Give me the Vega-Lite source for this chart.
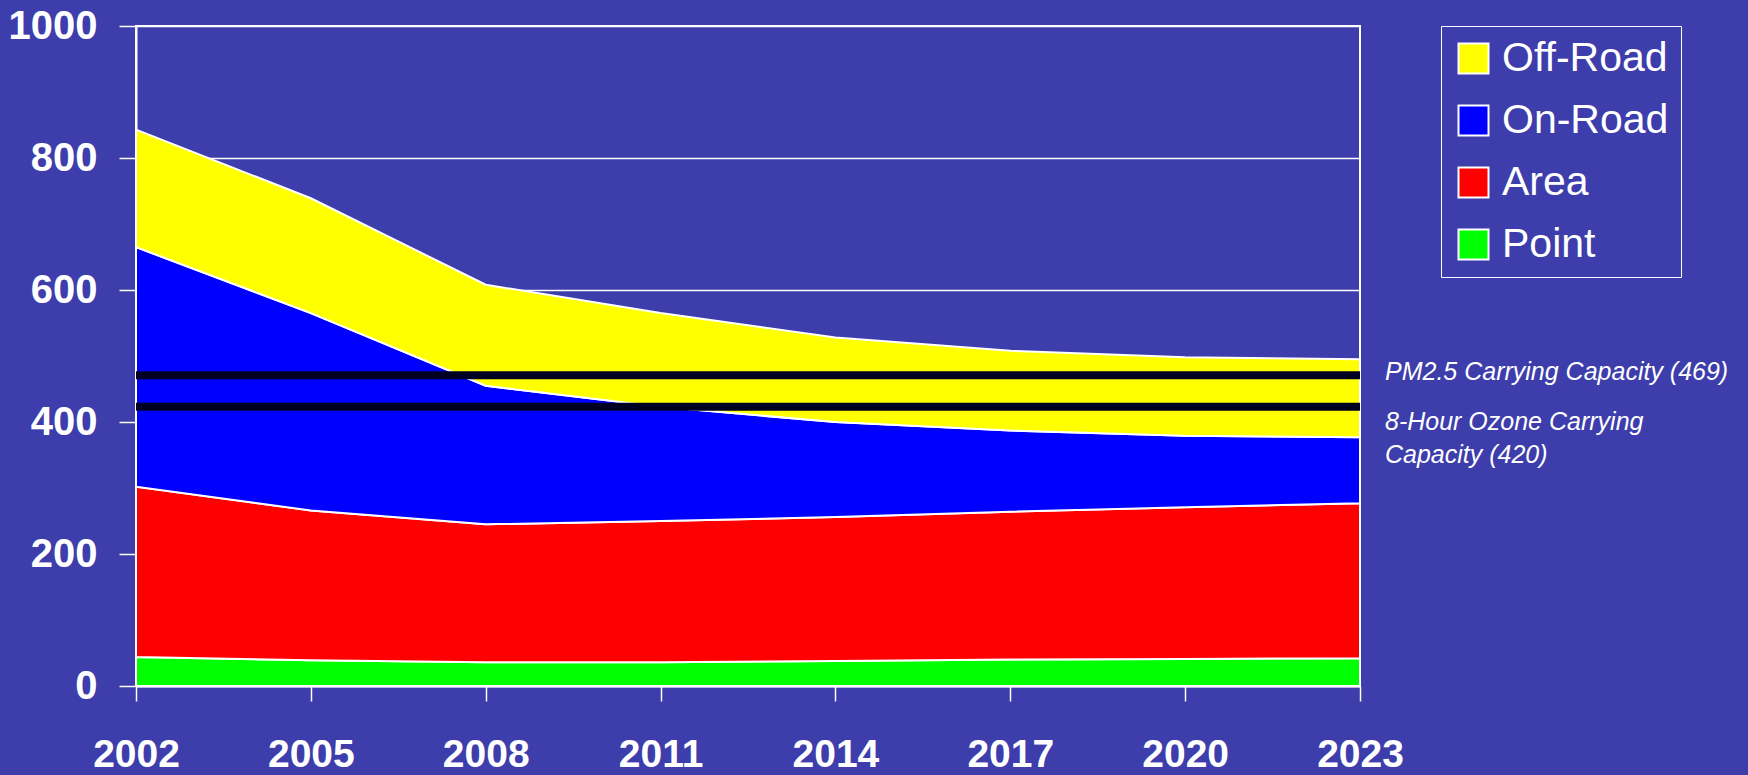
{
  "$schema": "https://vega.github.io/schema/vega-lite/v6.json",
  "width": 1224,
  "height": 660,
  "autosize": {"type": "none"},
  "padding": {"left": 136, "top": 26, "right": 388, "bottom": 89},
  "background": "#3d3dab",
  "config": {
    "font": "Liberation Sans",
    "view": {"stroke": "white", "strokeWidth": 2}
  },
  "datasets": {
    "emissions": [
      {"year": 2002, "source": "Point", "ord": 1, "value": 44},
      {"year": 2002, "source": "Area", "ord": 2, "value": 258},
      {"year": 2002, "source": "On-Road", "ord": 3, "value": 363},
      {"year": 2002, "source": "Off-Road", "ord": 4, "value": 178},
      {"year": 2005, "source": "Point", "ord": 1, "value": 39},
      {"year": 2005, "source": "Area", "ord": 2, "value": 227},
      {"year": 2005, "source": "On-Road", "ord": 3, "value": 299},
      {"year": 2005, "source": "Off-Road", "ord": 4, "value": 174},
      {"year": 2008, "source": "Point", "ord": 1, "value": 36},
      {"year": 2008, "source": "Area", "ord": 2, "value": 209},
      {"year": 2008, "source": "On-Road", "ord": 3, "value": 210},
      {"year": 2008, "source": "Off-Road", "ord": 4, "value": 153},
      {"year": 2011, "source": "Point", "ord": 1, "value": 36},
      {"year": 2011, "source": "Area", "ord": 2, "value": 214},
      {"year": 2011, "source": "On-Road", "ord": 3, "value": 173},
      {"year": 2011, "source": "Off-Road", "ord": 4, "value": 142},
      {"year": 2014, "source": "Point", "ord": 1, "value": 38},
      {"year": 2014, "source": "Area", "ord": 2, "value": 218},
      {"year": 2014, "source": "On-Road", "ord": 3, "value": 144},
      {"year": 2014, "source": "Off-Road", "ord": 4, "value": 128},
      {"year": 2017, "source": "Point", "ord": 1, "value": 40},
      {"year": 2017, "source": "Area", "ord": 2, "value": 224},
      {"year": 2017, "source": "On-Road", "ord": 3, "value": 123},
      {"year": 2017, "source": "Off-Road", "ord": 4, "value": 121},
      {"year": 2020, "source": "Point", "ord": 1, "value": 41},
      {"year": 2020, "source": "Area", "ord": 2, "value": 230},
      {"year": 2020, "source": "On-Road", "ord": 3, "value": 108},
      {"year": 2020, "source": "Off-Road", "ord": 4, "value": 119},
      {"year": 2023, "source": "Point", "ord": 1, "value": 42},
      {"year": 2023, "source": "Area", "ord": 2, "value": 235},
      {"year": 2023, "source": "On-Road", "ord": 3, "value": 100},
      {"year": 2023, "source": "Off-Road", "ord": 4, "value": 118}
    ],
    "capacity": [
      {"name": "PM2.5", "value": 471, "label": "PM2.5 Carrying Capacity (469)"},
      {"name": "Ozone", "value": 423, "label": "8-Hour Ozone Carrying\nCapacity (420)"}
    ]
  },
  "layer": [
    {
      "data": {"name": "emissions"},
      "mark": {"type": "area", "stroke": "white", "strokeWidth": 2, "opacity": 1},
      "encoding": {
        "x": {
          "field": "year",
          "type": "quantitative",
          "scale": {"domain": [2002, 2023], "nice": false, "zero": false},
          "axis": {
            "values": [2002, 2005, 2008, 2011, 2014, 2017, 2020, 2023],
            "format": "d",
            "title": null,
            "grid": false,
            "labelFontSize": 39,
            "labelFontWeight": "bold",
            "labelColor": "white",
            "labelPadding": 34,
            "labelFlush": false,
            "labelOverlap": false,
            "tickSize": 15,
            "tickColor": "white",
            "tickWidth": 1.5,
            "domainColor": "white",
            "domainWidth": 2
          }
        },
        "y": {
          "field": "value",
          "type": "quantitative",
          "stack": "zero",
          "scale": {"domain": [0, 1000], "nice": false},
          "axis": {
            "values": [0, 200, 400, 600, 800, 1000],
            "format": "d",
            "title": null,
            "grid": true,
            "gridColor": "white",
            "gridWidth": 1.5,
            "gridOpacity": 1,
            "labelFontSize": 40,
            "labelFontWeight": "bold",
            "labelColor": "white",
            "labelPadding": 22,
            "tickSize": 17,
            "tickColor": "white",
            "tickWidth": 1.5,
            "domainColor": "white",
            "domainWidth": 2
          }
        },
        "color": {
          "field": "source",
          "type": "nominal",
          "scale": {
            "domain": ["Off-Road", "On-Road", "Area", "Point"],
            "range": ["#FFFF00", "#0000FF", "#FF0000", "#00FF00"]
          },
          "legend": {
            "title": null,
            "orient": "none",
            "legendX": 1305,
            "legendY": 0,
            "symbolType": "square",
            "symbolSize": 900,
            "symbolStrokeColor": "white",
            "symbolStrokeWidth": 2,
            "symbolOpacity": 1,
            "labelFontSize": 41,
            "labelColor": "white",
            "labelOffset": 8,
            "labelLimit": 400,
            "rowPadding": 20,
            "padding": 12,
            "strokeColor": "white"
          }
        },
        "order": {"field": "ord", "type": "quantitative"}
      }
    },
    {
      "data": {"name": "capacity"},
      "mark": {"type": "rule", "color": "#000022", "strokeWidth": 8},
      "encoding": {
        "y": {"field": "value", "type": "quantitative"}
      }
    },
    {
      "data": {"name": "capacity"},
      "transform": [{"filter": "datum.name === 'PM2.5'"}],
      "mark": {"type": "text", "align": "left", "baseline": "alphabetic", "dx": 25, "dy": 5, "fontSize": 25, "fontStyle": "italic", "font": "Liberation Sans", "color": "white"},
      "encoding": {
        "x": {"datum": 2023, "type": "quantitative"},
        "y": {"field": "value", "type": "quantitative"},
        "text": {"field": "label"}
      }
    },
    {
      "data": {"name": "capacity"},
      "transform": [{"filter": "datum.name === 'Ozone'"}],
      "mark": {"type": "text", "align": "left", "baseline": "alphabetic", "dx": 25, "dy": 23, "fontSize": 25, "fontStyle": "italic", "font": "Liberation Sans", "color": "white", "lineBreak": "\n", "lineHeight": 33},
      "encoding": {
        "x": {"datum": 2023, "type": "quantitative"},
        "y": {"field": "value", "type": "quantitative"},
        "text": {"field": "label"}
      }
    }
  ]
}
